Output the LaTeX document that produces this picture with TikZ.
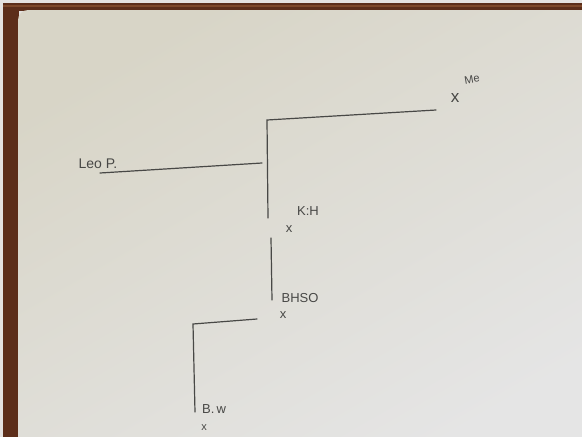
\documentclass[tikz,border=0pt]{standalone}
\usepackage{fontspec}
\setmainfont{Liberation Sans}
\definecolor{wood}{RGB}{92,46,26}
\definecolor{woodlight}{RGB}{125,72,42}
\definecolor{outer}{RGB}{228,226,224}
\definecolor{paperA}{RGB}{216,213,199}
\definecolor{paperB}{RGB}{229,229,229}
\definecolor{pencil}{RGB}{72,72,70}
\begin{document}
\begin{tikzpicture}[x=1pt,y=-1pt,
  pen/.style={draw=pencil,line width=1.2pt,line cap=round},
  lab/.style={text=pencil,font=\fontsize{13}{14}\selectfont,inner sep=0pt},
  xmark/.style={text=pencil,font=\fontsize{13}{13}\selectfont,inner sep=0pt}]
\useasboundingbox (0,0) rectangle (582,437);
% photo background
\fill[outer] (0,0) rectangle (582,437);
\fill[wood] (3,3) rectangle (582,11);
\fill[wood] (3,3) rectangle (19,437);
\fill[woodlight] (3,5) rectangle (582,6.5);
\shade[top color=paperA,bottom color=paperB,shading angle=30,rounded corners=10pt]
  (18,10) -- (600,10) -- (600,460) -- (18,460) -- cycle;
% labels and marks
\node[lab,font=\fontsize{11}{12}\selectfont,rotate=10] (melab) at (472,79) {Me};
\node[xmark,font=\fontsize{17}{17}\selectfont] (me) at (455,98) {x};
\node[lab,font=\fontsize{14}{15}\selectfont] (leo) at (98,164) {Leo P.};
\node[lab] (khlab) at (308,211) {K:H};
\node[xmark] (kh) at (289,229) {x};
\node[lab] (bhlab) at (300,298) {BHSO};
\node[xmark] (bh) at (283,315) {x};
\node[lab] (bwlab) at (214,409) {B.\,w};
\node[xmark,font=\fontsize{11}{11}\selectfont] (bw) at (204,428) {x};
% connector points
\coordinate (meend) at (436,110);
\coordinate (c1) at (267,120);
\coordinate (khtop) at (268,218);
\coordinate (leoend) at (100,173);
\coordinate (leojoin) at (262,163);
\coordinate (khbot) at (271,238);
\coordinate (bhtop) at (272,300);
\coordinate (bhend) at (257,319);
\coordinate (c2) at (193,324);
\coordinate (bwtop) at (195,412);
% connectors
\draw[pen] (meend) -- (c1) -- (khtop);
\draw[pen] (leoend) -- (leojoin);
\draw[pen] (khbot) -- (bhtop);
\draw[pen] (bhend) -- (c2) -- (bwtop);
\end{tikzpicture}
\end{document}
